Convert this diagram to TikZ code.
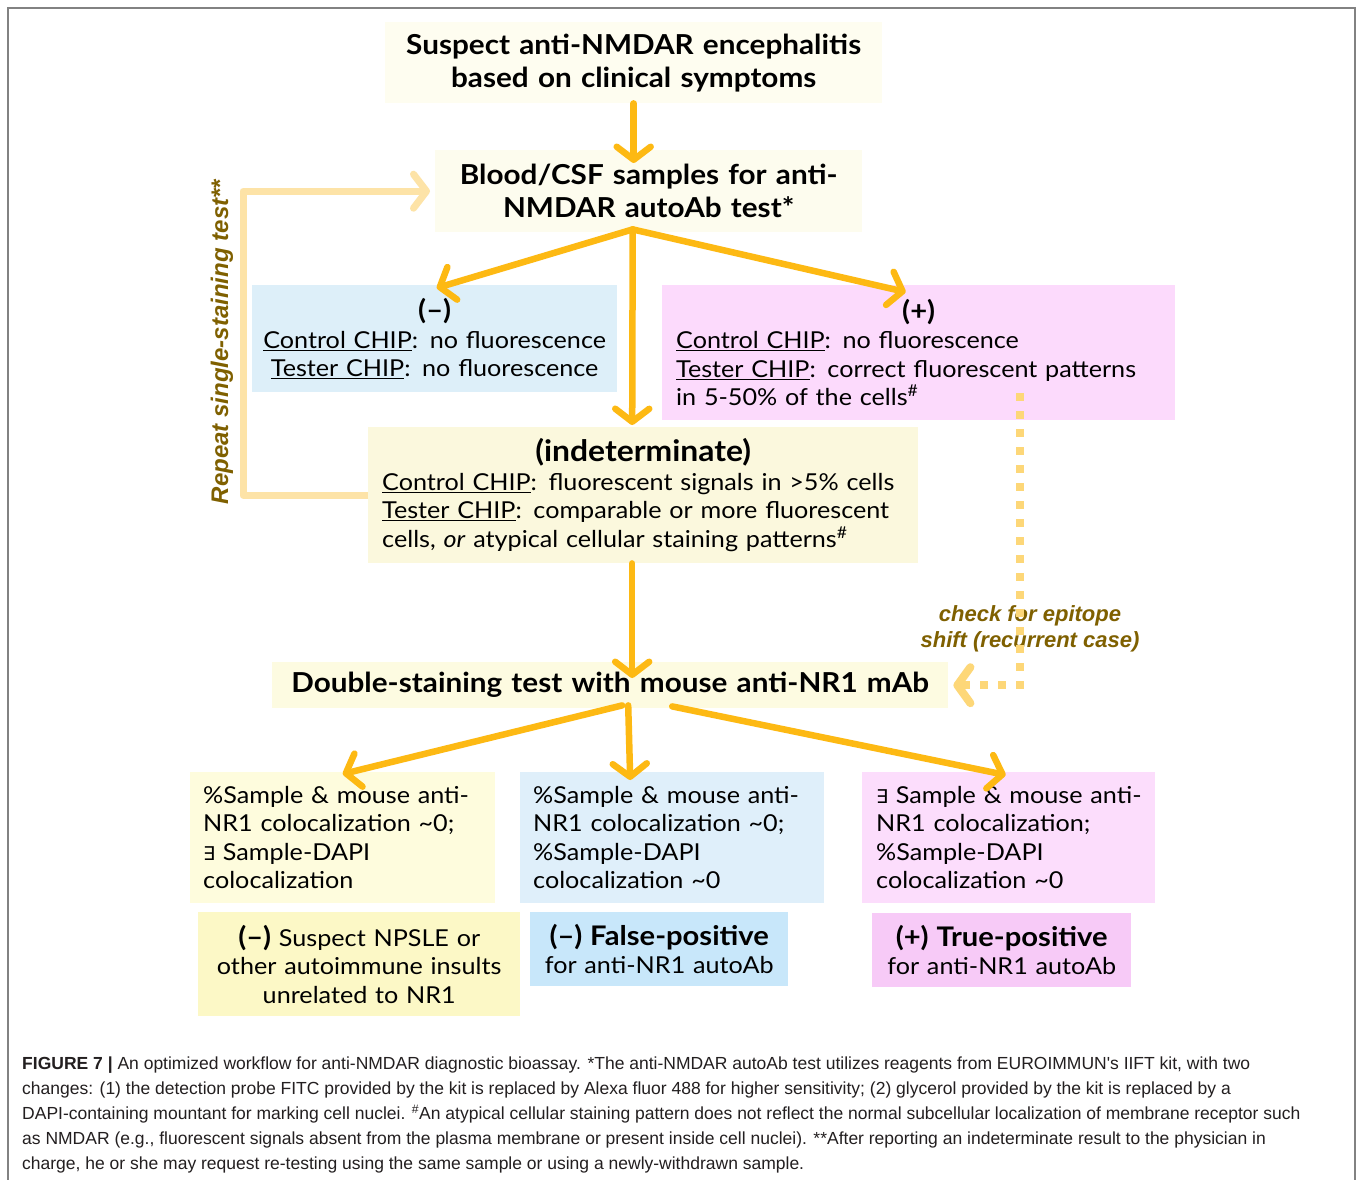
\documentclass[tikz,border=0pt]{standalone}
\usepackage{fontspec}
\setmainfont{Lato}[FakeStretch=1.08]
\newfontfamily\dejavu{DejaVu Sans}
\newfontfamily\labfont{Liberation Sans}
\newfontfamily\capfamily{Liberation Sans}
\usetikzlibrary{arrows.meta,calc}
\definecolor{arrc}{RGB}{253,185,19}
\definecolor{fbc}{RGB}{253,227,167}
\definecolor{dotc}{RGB}{253,215,120}
\definecolor{labc}{RGB}{127,96,0}
\definecolor{cTop}{RGB}{254,253,240}
\definecolor{cBlood}{RGB}{253,252,238}
\definecolor{cNeg}{RGB}{221,239,249}
\definecolor{cPos}{RGB}{252,218,252}
\definecolor{cInd}{RGB}{251,248,221}
\definecolor{cDbl}{RGB}{253,251,225}
\definecolor{cA}{RGB}{254,252,221}
\definecolor{cB}{RGB}{223,239,250}
\definecolor{cC}{RGB}{252,221,252}
\definecolor{cD}{RGB}{252,248,198}
\definecolor{cE}{RGB}{200,231,250}
\definecolor{cF}{RGB}{247,202,247}
\definecolor{capc}{RGB}{35,31,32}
\newcommand\fTitle{\fontsize{27.5}{33}\selectfont\bfseries}
\newcommand\fBody{\fontsize{23.3}{28.5}\selectfont}
\newcommand\fHead{\fontsize{27}{30}\selectfont\bfseries}
\newcommand\fBig{\fontsize{29.5}{30}\selectfont\bfseries}
\newcommand\exsym{{\dejavu\fontsize{19}{19}\selectfont ∃}}
\begin{document}
\begin{tikzpicture}[x=1pt,y=-1pt,
  bx/.style={anchor=north west, inner xsep=0pt, inner ysep=0pt},
  arr/.style={draw=arrc, line width=6.5pt, line cap=round, line join=round,
    -{Straight Barb[length=13pt,width=34pt,round]}},
  fb/.style={draw=fbc, line width=7pt, line join=round,
    -{Straight Barb[length=13pt,width=34pt,round]}},
  dotarr/.style={draw=dotc, line width=8pt, dash pattern=on 8pt off 10pt,
    -{Straight Barb[length=13pt,width=36pt,round]}},
  lab/.style={text=labc, font=\labfont\bfseries\itshape\fontsize{24}{26}\selectfont, inner sep=0pt}
]
\useasboundingbox (0,0) rectangle (1358,1180);
\fill[white] (0,0) rectangle (1358,1180);
\draw[color={rgb,255:red,130;green,130;blue,130}, line width=1.6pt] (8,1182) -- (8,8) -- (1355,8) -- (1355,1182);

% boxes
\node[bx, fill=cTop, text width=497pt, minimum height=81pt, align=center, font=\fTitle] (top) at (385,22)
  {\rule{0pt}{5pt}Suspect anti-NMDAR encephalitis\\based on clinical symptoms};
\node[bx, fill=cBlood, text width=427pt, minimum height=82pt, align=center, font=\fTitle] (blood) at (435,150)
  {Blood/CSF samples for anti-\\NMDAR autoAb test*};
\node[bx, fill=cNeg, text width=365pt, minimum height=107pt, align=center, font=\fBody] (neg) at (252,285)
  {{\fHead(\textendash)}\\\underline{Control CHIP}: no fluorescence\\\underline{Tester CHIP}: no fluorescence};
\node[bx, fill=cPos, inner xsep=14pt, text width=485pt, minimum height=135pt, align=left, font=\fBody] (pos) at (662,285)
  {\makebox[\linewidth]{\fHead(+)}\\\underline{Control CHIP}: no fluorescence\\\mbox{\underline{Tester CHIP}: correct fluorescent patterns}\\in 5-50\% of the cells\textsuperscript{\#}};
\node[bx, fill=cInd, inner xsep=14pt, text width=522pt, minimum height=136pt, align=left, font=\fBody] (ind) at (368,427)
  {\makebox[\linewidth]{\fBig(indeterminate)}\\\mbox{\underline{Control CHIP}: fluorescent signals in >5\% cells}\\\mbox{\underline{Tester CHIP}: comparable or more fluorescent}\\\mbox{cells, \textit{or} atypical cellular staining patterns\textsuperscript{\#}}};
\node[bx, fill=cDbl, text width=676pt, minimum height=46pt, align=center, font=\fontsize{27.5}{30}\selectfont\bfseries] (dbl) at (272,662)
  {Double-staining test with mouse anti-NR1 mAb};
\node[bx, fill=cA, inner xsep=13pt, text width=279pt, minimum height=131pt, align=left, font=\fBody] (a) at (190,772)
  {\mbox{\%Sample \& mouse anti-}\\\mbox{NR1 colocalization \textasciitilde0;}\\\exsym\ Sample-DAPI\\colocalization};
\node[bx, fill=cB, inner xsep=13pt, text width=278pt, minimum height=131pt, align=left, font=\fBody] (b) at (520,772)
  {\mbox{\%Sample \& mouse anti-}\\\mbox{NR1 colocalization \textasciitilde0;}\\\%Sample-DAPI\\colocalization \textasciitilde0};
\node[bx, fill=cC, inner xsep=14pt, text width=265pt, minimum height=131pt, align=left, font=\fBody] (c) at (862,772)
  {\mbox{\exsym\ Sample \& mouse anti-}\\\mbox{NR1 colocalization;}\\\%Sample-DAPI\\colocalization \textasciitilde0};
\node[bx, fill=cD, text width=322pt, minimum height=104pt, align=center, font=\fBody] (d) at (198,912)
  {{\fHead(\textendash)} Suspect NPSLE or\\other autoimmune insults\\unrelated to NR1};
\node[bx, fill=cE, text width=258pt, minimum height=74pt, align=center, font=\fBody] (e) at (530,912)
  {{\fHead(\textendash) False-positive}\\for anti-NR1 autoAb};
\node[bx, fill=cF, text width=259pt, minimum height=74pt, align=center, font=\fBody] (f) at (872,913)
  {{\fHead(+) True-positive}\\for anti-NR1 autoAb};

% labels
\node[lab, rotate=90] (rep) at (222,342) {Repeat single-staining test**};
\node[lab, align=center, font=\labfont\bfseries\itshape\fontsize{22}{26}\selectfont] (chk) at (1030,629) {check for epitope\\shift (recurrent case)};

% feedback connector
\draw[fb] (ind.west) -- ++(-125,0) |- ($(blood.west)+(-5,0)$);
% dotted connector
\draw[dotarr] ($(pos.south west)+(358,-27)$) |- ($(dbl.east)+(5,0)$);

% main arrows
\draw[arr] (top.south) -- ($(top.south |- blood.north)+(0,13)$);
\coordinate (br) at ($(blood.south)+(-16,-3)$);
\draw[arr] (br) -- ($(neg.north)+(2,3)$);
\draw[arr] (br) -- ($(pos.north)+(-13,7)$);
\draw[arr] (br) -- ($(ind.north)+(-11,-2)$);
\draw[arr] ($(ind.south)+(-11,0)$) -- ($(dbl.north)+(22,16)$);
\draw[arr] ($(dbl.south)+(12,-3)$) -- ($(a.north)+(0,2)$);
\draw[arr] ($(dbl.south)+(18,-3)$) -- ($(b.north)+(-42,8)$);
\draw[arr] ($(dbl.south)+(62,-2)$) -- ($(c.north)+(-3,3)$);

% caption
\node[anchor=north west, inner sep=0pt, align=left, text=capc,
  font=\capfamily\fontsize{17.5}{25}\selectfont] (cap) at (22,1057)
  {\textbf{FIGURE 7 |} An optimized workflow for anti-NMDAR diagnostic bioassay. *The anti-NMDAR autoAb test utilizes reagents from EUROIMMUN's IIFT kit, with two\\
  changes: (1) the detection probe FITC provided by the kit is replaced by Alexa fluor 488 for higher sensitivity; (2) glycerol provided by the kit is replaced by a\\
  DAPI-containing mountant for marking cell nuclei. \textsuperscript{\#}An atypical cellular staining pattern does not reflect the normal subcellular localization of membrane receptor such\\
  as NMDAR (e.g., fluorescent signals absent from the plasma membrane or present inside cell nuclei). **After reporting an indeterminate result to the physician in\\
  charge, he or she may request re-testing using the same sample or using a newly-withdrawn sample.};
\end{tikzpicture}
\end{document}
